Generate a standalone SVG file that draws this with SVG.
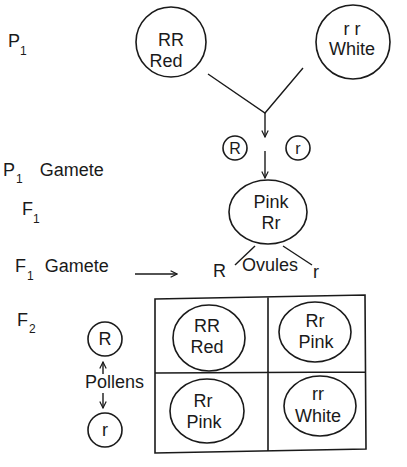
<svg xmlns="http://www.w3.org/2000/svg" width="407" height="467" viewBox="0 0 407 467">
<style>
text{font-family:"Liberation Sans",Arial,sans-serif;font-size:18px;fill:#1a1a1a}
.c{text-anchor:middle}
.s{font-size:12px}
.sm{font-size:16px}
.n{fill:none;stroke:#1a1a1a;stroke-width:1.6}
.l{fill:none;stroke:#1a1a1a;stroke-width:1.4}
</style>
<defs>
<marker id="ah" viewBox="0 0 10 10" refX="9" refY="5" markerWidth="8" markerHeight="8" markerUnits="userSpaceOnUse" orient="auto">
<path d="M1,1 L9,5 L1,9" fill="none" stroke="#1a1a1a" stroke-width="1.5"/>
</marker>
</defs>
<rect width="407" height="467" fill="#fff"/>
<g id="labels">
<text x="8" y="47">P<tspan class="s" dy="8">1</tspan></text>
<text x="3" y="176">P<tspan class="s" dx="1" dy="7">1</tspan><tspan dx="17" dy="-7">Gamete</tspan></text>
<text x="22" y="215">F<tspan class="s" dy="8">1</tspan></text>
<text x="15" y="272">F<tspan class="s" dx="1" dy="8">1</tspan><tspan dx="11" dy="-8">Gamete</tspan></text>
<text x="17" y="326">F<tspan class="s" dx="1" dy="7">2</tspan></text>
</g>
<g id="p1-red">
<circle class="n" cx="171" cy="42" r="35"/>
<text class="c" x="171" y="46">RR</text>
<text class="c" x="166" y="67">Red</text>
</g>
<g id="p1-white">
<circle class="n" cx="353" cy="42" r="37"/>
<text class="c" x="352" y="35">r r</text>
<text class="c" x="352" y="55">White</text>
</g>
<g id="gamete-R">
<circle class="n" cx="235" cy="148" r="12"/>
<text class="c sm" x="235" y="154">R</text>
</g>
<g id="gamete-r">
<circle class="n" cx="298" cy="148" r="12"/>
<text class="c sm" x="298" y="154">r</text>
</g>
<g id="f1-pink">
<ellipse class="n" cx="268" cy="212" rx="39" ry="32"/>
<text class="c" x="271" y="208">Pink</text>
<text class="c" x="271" y="229">Rr</text>
</g>
<g id="ovules">
<text x="213" y="277">R</text>
<text x="242" y="271">Ovules</text>
<text x="313" y="278">r</text>
</g>
<g id="pollen-R">
<circle class="n" cx="105" cy="339" r="17"/>
<text class="c" x="105" y="345">R</text>
</g>
<g id="pollen-r">
<circle class="n" cx="105" cy="430" r="17"/>
<text class="c" x="105" y="436">r</text>
</g>
<g id="pollens">
<text x="85" y="388">Pollens</text>
</g>
<g id="grid">
<path class="n" d="M155,299 L365,295 L366,449 L155,453 Z M268,297 L268,451 M155,373 L365,372"/>
</g>
<g id="f2-RR">
<ellipse class="n" cx="209" cy="338" rx="36" ry="33"/>
<text class="c" x="207" y="332">RR</text>
<text class="c" x="207" y="353">Red</text>
</g>
<g id="f2-Rr-1">
<ellipse class="n" cx="315" cy="332" rx="36" ry="30"/>
<text class="c" x="315" y="327">Rr</text>
<text class="c" x="316" y="348">Pink</text>
</g>
<g id="f2-Rr-2">
<ellipse class="n" cx="207" cy="411" rx="37" ry="32"/>
<text class="c" x="203" y="407">Rr</text>
<text class="c" x="204" y="428">Pink</text>
</g>
<g id="f2-rr">
<ellipse class="n" cx="320" cy="406" rx="36" ry="30"/>
<text class="c" x="318" y="400">rr</text>
<text class="c" x="318" y="422">White</text>
</g>
<g id="connectors">
<path class="l" d="M208,74 L265,113 L303,68"/>
<path class="l" d="M265,113 L265,137" marker-end="url(#ah)"/>
<path class="l" d="M265,151 L265,178" marker-end="url(#ah)"/>
<path class="l" d="M255,246 L235,265"/>
<path class="l" d="M283,246 L312,265"/>
<path class="l" d="M135,274 L177,274" marker-end="url(#ah)"/>
<path class="l" d="M103,374 L103,362" marker-end="url(#ah)"/>
<path class="l" d="M103,393 L103,408" marker-end="url(#ah)"/>
</g>
</svg>
